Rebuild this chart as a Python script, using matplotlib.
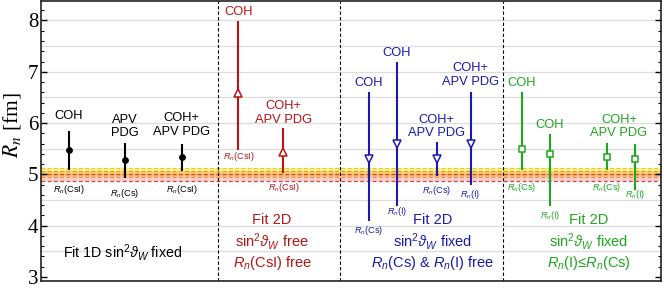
import matplotlib
matplotlib.use("Agg")
import matplotlib.pyplot as plt
import numpy as np

plt.rcParams['font.family'] = ['Liberation Sans', 'DejaVu Sans']
plt.rcParams['mathtext.fontset'] = 'custom'
plt.rcParams['mathtext.rm'] = 'Liberation Sans'
plt.rcParams['mathtext.it'] = 'Liberation Sans:italic'
plt.rcParams['mathtext.bf'] = 'Liberation Sans:bold'
plt.rcParams['mathtext.fallback'] = 'stixsans'

# ---------------- data ----------------
# Panel 1: Fit 1D, sin^2 theta_W fixed
fit1d_labels = ["COH", "APV\nPDG", "COH+\nAPV PDG"]
fit1d_nuclei = ["CsI", "Cs", "CsI"]
fit1d_center = [5.47, 5.27, 5.34]
fit1d_upper = [5.85, 5.62, 5.60]
fit1d_lower = [5.08, 4.93, 5.06]

# Panel 2: Fit 2D, sin^2 free, Rn(CsI) free
fit2d_free_labels = ["COH", "COH+\nAPV PDG"]
fit2d_free_nuclei = ["CsI", "CsI"]
fit2d_free_center = [6.59, 5.44]
fit2d_free_upper = [7.99, 5.90]
fit2d_free_lower = [5.48, 5.03]

# Panel 3: Fit 2D, sin^2 fixed, Rn(Cs) & Rn(I) free
fit2d_csi_labels = ["COH", "COH", "COH+\nAPV PDG", "COH+\nAPV PDG"]
fit2d_csi_nuclei = ["Cs", "I", "Cs", "I"]
fit2d_csi_center = [5.29, 5.60, 5.29, 5.60]
fit2d_csi_upper = [6.61, 7.19, 5.63, 6.61]
fit2d_csi_lower = [4.09, 4.39, 4.97, 4.79]

# Panel 4: Fit 2D, sin^2 fixed, Rn(I) <= Rn(Cs)
fit2d_ord_labels = ["COH", "COH", "COH+\nAPV PDG"]
fit2d_ord_nuclei = ["Cs", "I", "Cs", "I"]
fit2d_ord_center = [5.50, 5.39, 5.33, 5.30]
fit2d_ord_upper = [6.61, 5.79, 5.62, 5.60]
fit2d_ord_lower = [5.09, 4.39, 5.09, 4.70]

# reference bands (yellow, orange, red)
band_yellow = (4.99, 5.13)
band_orange = (4.95, 5.07)
band_red = (4.87, 5.01)

# ---------------- layout ----------------
W, H = 664, 288
fig = plt.figure(figsize=(W / 100, H / 100), dpi=100)
ax = fig.add_axes([41 / W, 1 - 281 / H, 620 / W, 280 / H])
ax.set_xlim(41, 661)
ax.set_ylim(2.92, 8.38)

px = 1 / 51.2  # one pixel in data units (y)

# grid
for g in np.arange(3.5, 8.01, 0.5):
    ax.axhline(g, color='#dcdcdc', lw=0.9, zorder=0)

# bands
def band(lohi, fill, edge, alpha):
    ax.axhspan(lohi[0], lohi[1], color=fill, alpha=alpha, lw=0, zorder=1)
    for v in lohi:
        ax.axhline(v, color=edge, lw=0.9, ls=(0, (3, 2)), zorder=1.5)

band(band_yellow, '#f2ea60', '#e0d020', 0.65)
band(band_orange, '#f8b050', '#f09a30', 0.5)
band(band_red, '#f4a0a0', '#d84040', 0.5)

# separators
for xs in [218, 340, 503]:
    ax.axvline(xs, color='black', lw=0.8, ls=(0, (3, 2)), zorder=2)

panels = [
    dict(x=[68.5, 124.7, 181.7], c=fit1d_center, u=fit1d_upper, l=fit1d_lower,
         nuc=fit1d_nuclei, color='black', marker='o', mfc='black', ms=3.8,
         lab=fit1d_labels, labx=[68.5, 124.7, 181.7], laby=[6.07, 5.73, 5.76],
         nucy=[4.707, 4.635, 4.707]),
    dict(x=[238.3, 283.3], c=fit2d_free_center, u=fit2d_free_upper, l=fit2d_free_lower,
         nuc=fit2d_free_nuclei, color='#b81414', marker='^', mfc='white', ms=5.5,
         lab=fit2d_free_labels, labx=[238.3, 283.3], laby=[8.105, 5.99],
         nucy=[5.357, 4.74]),
    dict(x=[368.5, 396.8, 436.7, 470.7], c=fit2d_csi_center, u=fit2d_csi_upper, l=fit2d_csi_lower,
         nuc=fit2d_csi_nuclei, color='#1a1ab0', marker='v', mfc='white', ms=5.5,
         lab=fit2d_csi_labels, labx=[368.5, 396.8, 436.7, 470.7], laby=[6.705, 7.29, 5.73, 6.74],
         nucy=[3.906, 4.283, 4.6875, 4.60]),
    dict(x=[521.7, 550.0, 606.7, 635.0], c=fit2d_ord_center, u=fit2d_ord_upper, l=fit2d_ord_lower,
         nuc=fit2d_ord_nuclei, color='#1ea81e', marker='s', mfc='white', ms=4.5,
         lab=fit2d_ord_labels, labx=[521.7, 550.0, 619.0], laby=[6.705, 5.89, 5.73],
         nucy=[4.74, 4.199, 4.74, 4.60]),
]

for p in panels:
    x = np.array(p['x'])
    c = np.array(p['c'])
    u = np.array(p['u'])
    l = np.array(p['l'])
    ax.vlines(x, l, u, color=p['color'], lw=1.5, zorder=3)
    ax.plot(x, c, ls='none', marker=p['marker'], ms=p['ms'], mfc=p['mfc'],
            mec=p['color'], mew=1.1, zorder=4)
    for xi, yi, t in zip(p['labx'], p['laby'], p['lab']):
        ax.text(xi, yi - 2.5 * px, t, color=p['color'], fontsize=9.3,
                ha='center', va='bottom', multialignment='center',
                linespacing=1.2, zorder=5)
    for xi, yi, n in zip(x, p['nucy'], p['nuc']):
        ax.text(xi, yi, r"$R_n$(" + n + ")", color=p['color'], fontsize=6.6,
                ha='center', va='center', zorder=5)

# panel descriptions
ax.text(123, 3.483, r"Fit 1D sin$^2\vartheta_W$ fixed", fontsize=10.3,
        ha='center', va='center', color='black')

desc = [
    (272, '#b81414', ["Fit 2D", r"sin$^2\vartheta_W$ free", r"$R_n$(CsI) free"]),
    (433, '#1a1ab0', ["Fit 2D", r"sin$^2\vartheta_W$ fixed", r"$R_n$(Cs) & $R_n$(I) free"]),
    (589, '#1ea81e', ["Fit 2D", r"sin$^2\vartheta_W$ fixed", "$R_n$(I)≤$R_n$(Cs)"]),
]
for xc, col, lines in desc:
    for i, t in enumerate(lines):
        ax.text(xc, 4.10 - i * 21 * px, t, fontsize=10.5, ha='center', va='center',
                color=col)

# axes styling
ax.set_xticks([])
ax.set_yticks([3, 4, 5, 6, 7, 8])
ax.set_yticks(np.arange(3, 8.4, 0.2), minor=True)
ax.tick_params(axis='y', which='both', direction='in', left=True, right=True,
               labelright=False, pad=2)
ax.tick_params(axis='y', which='major', length=4, width=1)
ax.tick_params(axis='y', which='minor', length=2, width=0.8)
for lab in ax.get_yticklabels():
    lab.set_fontfamily('Liberation Serif')
    lab.set_fontsize(15)
for s in ax.spines.values():
    s.set_linewidth(1.2)
    s.set_color('#222222')

ax.set_ylabel(r"$R_n$ [fm]", fontsize=15.5, family='Liberation Serif',
              math_fontfamily='stix', va='center')
ax.yaxis.set_label_coords(-0.046, 0.557)

fig.savefig("out.png", dpi=100)
